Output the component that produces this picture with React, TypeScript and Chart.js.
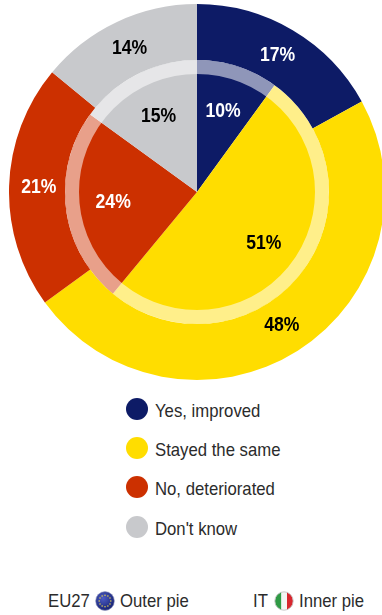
import React, { useEffect, useRef } from "react";
import { Chart, registerables, Plugin } from "chart.js";

Chart.register(...registerables);

const categories = ["Yes, improved", "Stayed the same", "No, deteriorated", "Don't know"];
const outerPie = [17, 48, 21, 14]; // EU27
const innerPie = [10, 51, 24, 15]; // IT
const sliceColors = ["#0d1b66", "#ffdd00", "#cc3000", "#c8c9cc"];
const labelColors = ["#ffffff", "#000000", "#ffffff", "#000000"];
const sansFont = '"Liberation Sans", Arial, sans-serif';
const condensed = 0.88;

// Pale translucent band along the rim of the inner pie.
const ringPlugin: Plugin<"doughnut"> = {
  id: "rimRing",
  afterDatasetsDraw(chart) {
    const arc: any = chart.getDatasetMeta(1).data[0];
    if (!arc) return;
    const { ctx } = chart;
    ctx.save();
    ctx.beginPath();
    ctx.arc(arc.x, arc.y, arc.outerRadius - 7, 0, Math.PI * 2);
    ctx.lineWidth = 14;
    ctx.strokeStyle = "rgba(255,255,255,0.54)";
    ctx.stroke();
    ctx.restore();
  },
};

// Percentage text placed along each slice's mid-angle.
const percentPlugin: Plugin<"doughnut"> = {
  id: "percentLabels",
  afterDraw(chart) {
    const { ctx } = chart;
    chart.data.datasets.forEach((ds, di) => {
      const fraction = di === 0 ? 0.47 : 0.64;
      chart.getDatasetMeta(di).data.forEach((el: any, i) => {
        const mid = (el.startAngle + el.endAngle) / 2;
        const r = el.innerRadius + (el.outerRadius - el.innerRadius) * fraction;
        ctx.save();
        ctx.translate(el.x + Math.cos(mid) * r, el.y + Math.sin(mid) * r);
        ctx.scale(condensed, 1);
        ctx.font = `bold 20px ${sansFont}`;
        ctx.textAlign = "center";
        ctx.textBaseline = "middle";
        ctx.fillStyle = labelColors[i];
        ctx.fillText(`${ds.data[i]}%`, 0, 0);
        ctx.restore();
      });
    });
  },
};

const text: React.CSSProperties = {
  position: "absolute",
  fontFamily: sansFont,
  fontSize: 19,
  lineHeight: "22px",
  color: "#2b2b2b",
  whiteSpace: "nowrap",
  transform: `scaleX(${condensed})`,
  transformOrigin: "left center",
};

const legendRows = [409, 448, 487, 527];

function EuFlag() {
  const stars = Array.from({ length: 12 }, (_, i) => (i * Math.PI) / 6);
  return (
    <svg width="20" height="20" viewBox="-10 -10 20 20" style={{ position: "absolute", left: 95, top: 591 }}>
      <defs>
        <radialGradient id="eu" cx="40%" cy="35%" r="70%">
          <stop offset="0%" stopColor="#4d5cc4" />
          <stop offset="100%" stopColor="#14206f" />
        </radialGradient>
      </defs>
      <circle r="9.4" fill="url(#eu)" stroke="#9a9fc4" strokeWidth="0.6" />
      {stars.map((a, i) => (
        <circle key={i} cx={Math.cos(a) * 5.8} cy={Math.sin(a) * 5.8} r="0.75" fill="#e8d44a" />
      ))}
    </svg>
  );
}

function ItalyFlag() {
  return (
    <svg width="20" height="20" viewBox="-10 -10 20 20" style={{ position: "absolute", left: 274, top: 591 }}>
      <defs>
        <clipPath id="disc">
          <circle r="9.2" />
        </clipPath>
      </defs>
      <g clipPath="url(#disc)">
        <rect x="-10" y="-10" width="7.4" height="20" fill="#2f9a45" />
        <rect x="-2.6" y="-10" width="5.6" height="20" fill="#f4f4f4" />
        <rect x="3" y="-10" width="7" height="20" fill="#d8262e" />
      </g>
      <circle r="9.2" fill="none" stroke="#c4c4c4" strokeWidth="0.9" />
    </svg>
  );
}

export default function App() {
  const canvasRef = useRef<HTMLCanvasElement>(null);

  useEffect(() => {
    if (!canvasRef.current) return;
    const chart = new Chart(canvasRef.current, {
      type: "doughnut",
      data: {
        labels: categories,
        datasets: [
          { data: outerPie, backgroundColor: sliceColors, borderWidth: 0, weight: 56 },
          { data: innerPie, backgroundColor: sliceColors, borderWidth: 0, weight: 132 },
        ],
      },
      options: {
        responsive: false,
        animation: false,
        cutout: 0,
        layout: { padding: 0 },
        plugins: { legend: { display: false }, tooltip: { enabled: false } },
      },
      plugins: [ringPlugin, percentPlugin],
    });
    return () => chart.destroy();
  }, []);

  return (
    <div style={{ position: "absolute", left: 0, top: 0, width: 382, height: 615, overflow: "hidden", background: "#fff" }}>
      <canvas ref={canvasRef} width={376} height={376} style={{ position: "absolute", left: 9, top: 4 }} />
      {categories.map((name, i) => (
        <React.Fragment key={name}>
          <div
            style={{
              position: "absolute",
              left: 126,
              top: legendRows[i] - 11,
              width: 22,
              height: 22,
              borderRadius: "50%",
              background: sliceColors[i],
            }}
          />
          <div style={{ ...text, left: 155, top: legendRows[i] - 9 }}>{name}</div>
        </React.Fragment>
      ))}
      <div style={{ ...text, left: 48, top: 590 }}>EU27</div>
      <EuFlag />
      <div style={{ ...text, left: 120, top: 590 }}>Outer pie</div>
      <div style={{ ...text, left: 253, top: 590 }}>IT</div>
      <ItalyFlag />
      <div style={{ ...text, left: 299, top: 590 }}>Inner pie</div>
    </div>
  );
}
